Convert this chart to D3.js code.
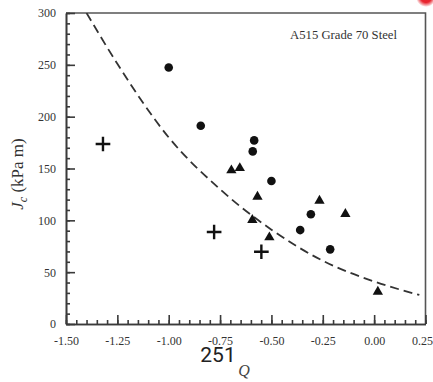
<!DOCTYPE html>
<html lang="en">
<head>
<meta charset="UTF-8">
<title>Jc vs Q</title>
<style>
  body { margin: 0; background: #fff; }
  svg { display: block; }
  .tick text { font-family: "Liberation Serif", "Times New Roman", serif; font-size: 12px; fill: #333; }
  .axis path, .axis line { stroke: #3a3a3a; stroke-width: 1.6px; }
</style>
<script src="https://d3js.org/d3.v7.min.js"></script>
</head>
<body>
<svg id="chart"></svg>
<script>
// data
const circleQ = [-1.00, -0.844, -0.584, -0.591, -0.500, -0.308, -0.360, -0.214];
const circleJ = [247.5, 191.2, 177.1, 166.5, 137.9, 105.8, 90.6, 72.0];

const triangleQ = [-0.695, -0.654, -0.568, -0.593, -0.510, -0.266, -0.140, 0.018];
const triangleJ = [148.2, 150.4, 122.8, 100.3, 83.6, 118.9, 106.1, 31.1];

const crossQ = [-1.320, -0.779, -0.549];
const crossJ = [173.6, 88.7, 69.7];

// dashed fit curve
const curveQ = [-1.40, -1.25, -1.00, -0.75, -0.50, -0.25, 0.00, 0.22];
const curveJ = [300, 251, 180, 130, 91, 61, 41, 28];

const xTicks = [-1.50, -1.25, -1.00, -0.75, -0.50, -0.25, 0.00, 0.25];
const yTicks = [0, 50, 100, 150, 200, 250, 300];
const xMinor = d3.range(-1.5, 0.2501, 0.05);
const yMinor = d3.range(0, 301, 10);

const width = 433, height = 382;
const plotL = 66, plotR = 425.5, plotT = 13, plotB = 324;

const svg = d3.select("#chart").attr("width", width).attr("height", height);

const x = d3.scaleLinear().domain([-1.5, 0.25]).range([plotL, plotR]);
const y = d3.scaleLinear().domain([0, 300]).range([plotB, plotT]);

const defs = svg.append("defs");
defs.append("clipPath").attr("id", "plot")
  .append("rect").attr("x", plotL).attr("y", plotT)
  .attr("width", plotR - plotL).attr("height", plotB - plotT);

// frame (top, right)
svg.append("path")
  .attr("d", `M${plotL},${plotT}H${plotR}V${plotB}`)
  .attr("fill", "none").attr("stroke", "#555").attr("stroke-width", 1.6);

// axes, ticks pointing inward
svg.append("g").attr("class", "axis")
  .attr("transform", `translate(0,${plotB})`)
  .call(d3.axisBottom(x).tickValues(xMinor).tickSize(-4).tickFormat("").tickSizeOuter(0));
const xAxis = svg.append("g").attr("class", "axis")
  .attr("transform", `translate(0,${plotB})`)
  .call(d3.axisBottom(x).tickValues(xTicks).tickSize(-9).tickSizeOuter(0)
    .tickPadding(12.5).tickFormat(d => d.toFixed(2)));
// last label sits against the page edge
xAxis.selectAll(".tick text").filter(d => d === 0.25)
  .attr("text-anchor", "end").attr("x", 7);

svg.append("g").attr("class", "axis")
  .attr("transform", `translate(${plotL},0)`)
  .call(d3.axisLeft(y).tickValues(yMinor).tickSize(-4).tickFormat("").tickSizeOuter(0));
svg.append("g").attr("class", "axis")
  .attr("transform", `translate(${plotL},0)`)
  .call(d3.axisLeft(y).tickValues(yTicks).tickSize(-9).tickSizeOuter(0)
    .tickPadding(10).tickFormat(d3.format("d")));

// dashed curve
const line = d3.line()
  .x((d, i) => x(curveQ[i]))
  .y((d, i) => y(curveJ[i]))
  .curve(d3.curveMonotoneX);
svg.append("path")
  .datum(curveQ)
  .attr("clip-path", "url(#plot)")
  .attr("d", line)
  .attr("fill", "none")
  .attr("stroke", "#333")
  .attr("stroke-width", 1.8)
  .attr("stroke-dasharray", "9,5");

// markers
svg.append("g").selectAll("circle")
  .data(circleQ)
  .join("circle")
  .attr("cx", d => x(d))
  .attr("cy", (d, i) => y(circleJ[i]))
  .attr("r", 4.3)
  .attr("fill", "#111");

svg.append("g").selectAll("path")
  .data(triangleQ)
  .join("path")
  .attr("transform", (d, i) => `translate(${x(d)},${y(triangleJ[i])})`)
  .attr("d", d3.symbol(d3.symbolTriangle).size(46))
  .attr("fill", "#111");

svg.append("g").selectAll("path")
  .data(crossQ)
  .join("path")
  .attr("transform", (d, i) => `translate(${x(d)},${y(crossJ[i])})`)
  .attr("d", d3.symbol(d3.symbolPlus).size(72))
  .attr("fill", "none")
  .attr("stroke", "#111")
  .attr("stroke-width", 2.4);

// texts
svg.append("text")
  .attr("x", 290).attr("y", 38.5)
  .attr("font-family", "Liberation Serif, serif")
  .attr("font-size", 11.5)
  .attr("textLength", 107)
  .attr("lengthAdjust", "spacingAndGlyphs")
  .attr("fill", "#333")
  .text("A515 Grade 70 Steel");

const yl = svg.append("text")
  .attr("transform", "translate(23,174) rotate(-90)")
  .attr("text-anchor", "middle")
  .attr("font-family", "Liberation Serif, serif")
  .attr("font-size", 17)
  .attr("fill", "#333");
yl.append("tspan").attr("font-style", "italic").text("J");
yl.append("tspan").attr("font-style", "italic").attr("font-size", 12).attr("dy", 4).text("c");
yl.append("tspan").attr("dy", -4).text(" (kPa m)");

svg.append("text")
  .attr("x", 244).attr("y", 376)
  .attr("text-anchor", "middle")
  .attr("font-family", "Liberation Serif, serif")
  .attr("font-style", "italic")
  .attr("font-size", 16)
  .attr("fill", "#444")
  .text("Q");

svg.append("text")
  .attr("x", 218).attr("y", 361.5)
  .attr("text-anchor", "middle")
  .attr("font-family", "Roboto, sans-serif")
  .attr("font-size", 21)
  .attr("fill", "#222")
  .text("251");

// red mark cut at the corner
const grad = defs.append("radialGradient").attr("id", "red");
grad.append("stop").attr("offset", "55%").attr("stop-color", "#e8252f");
grad.append("stop").attr("offset", "100%").attr("stop-color", "#e8252f").attr("stop-opacity", 0);
svg.append("circle").attr("cx", 426).attr("cy", -3).attr("r", 10).attr("fill", "url(#red)");
</script>
</body>
</html>
